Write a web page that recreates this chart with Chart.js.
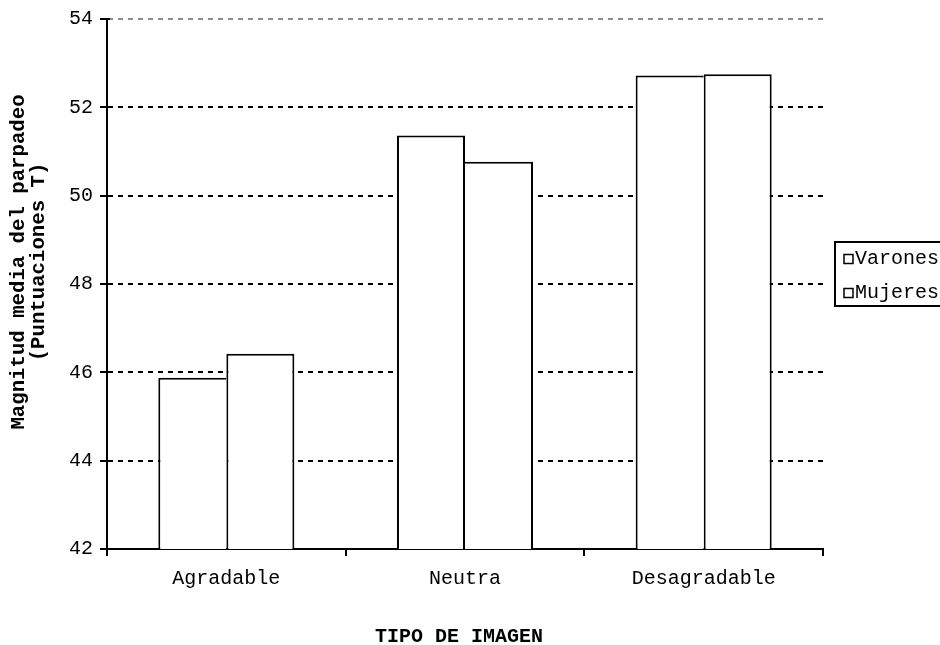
<!DOCTYPE html>
<html>
<head>
<meta charset="utf-8">
<script src="https://cdn.jsdelivr.net/npm/chart.js@4.4.1/dist/chart.umd.min.js"></script>
<style>
  html, body { margin: 0; padding: 0; background: #ffffff; }
  #wrap { width: 940px; height: 645px; }
</style>
</head>
<body>
<div id="wrap"><canvas id="c" width="940" height="645"></canvas></div>
<script>
const categories = ['Agradable', 'Neutra', 'Desagradable'];
const varones = [45.88, 51.36, 52.72];
const mujeres = [46.42, 50.77, 52.75];
const seriesNames = ['Varones', 'Mujeres'];
const yMin = 42, yMax = 54, yStep = 2;
const yTitle = ['Magnitud media del parpadeo', '(Puntuaciones T)'];
const xTitle = 'TIPO DE IMAGEN';

const MONO = "'Liberation Mono', 'Courier New', monospace";
const EDGE = 2;

// The shared edge of each bar pair is drawn once, by the taller bar
const varonesBorder = (c) => ({ top: EDGE, left: EDGE, bottom: 0,
  right: varones[c.dataIndex] >= mujeres[c.dataIndex] ? EDGE : 0 });
const mujeresBorder = (c) => ({ top: EDGE, right: EDGE, bottom: 0,
  left: mujeres[c.dataIndex] > varones[c.dataIndex] ? EDGE : 0 });

// Axis titles, boxed legend and the short inner half of the y tick marks
const decorations = {
  id: 'decorations',
  afterDraw(chart) {
    const ctx = chart.ctx;
    const area = chart.chartArea;
    const yScale = chart.scales.y;
    ctx.save();

    // tick marks crossing the value axis
    ctx.strokeStyle = '#000000';
    ctx.lineWidth = 2;
    yScale.ticks.forEach((t) => {
      const py = Math.round(yScale.getPixelForValue(t.value));
      ctx.beginPath();
      ctx.moveTo(area.left, py);
      ctx.lineTo(area.left + 3, py);
      ctx.stroke();
    });

    // value axis title, two rotated lines
    ctx.fillStyle = '#000000';
    ctx.font = 'bold 20.7px ' + MONO;
    ctx.textAlign = 'center';
    ctx.textBaseline = 'middle';
    yTitle.forEach((line, i) => {
      ctx.save();
      ctx.translate(19 + i * 20, 262);
      ctx.rotate(-Math.PI / 2);
      ctx.fillText(line, 0, 0);
      ctx.restore();
    });

    // category axis title
    ctx.font = 'bold 20px ' + MONO;
    ctx.fillText(xTitle, 459, 637);

    // legend
    const x0 = 835, y0 = 242, w = 140, h = 64;
    ctx.fillStyle = '#ffffff';
    ctx.fillRect(x0, y0, w, h);
    ctx.strokeStyle = '#000000';
    ctx.lineWidth = 2;
    ctx.strokeRect(x0, y0, w, h);
    ctx.font = '20px ' + MONO;
    ctx.textAlign = 'left';
    chart.data.datasets.forEach((ds, i) => {
      const cy = 259 + i * 34;
      ctx.lineWidth = 1.5;
      ctx.strokeStyle = '#000000';
      ctx.fillStyle = '#ffffff';
      ctx.fillRect(844, cy - 4.5, 9, 9);
      ctx.strokeRect(844, cy - 4.5, 9, 9);
      ctx.fillStyle = '#000000';
      ctx.fillText(ds.label, 855, cy);
    });
    ctx.restore();
  }
};

new Chart(document.getElementById('c'), {
  type: 'bar',
  data: {
    labels: categories,
    datasets: [
      { label: seriesNames[0], data: varones, backgroundColor: '#ffffff', borderColor: '#000000',
        borderWidth: varonesBorder, borderSkipped: false },
      { label: seriesNames[1], data: mujeres, backgroundColor: '#ffffff', borderColor: '#000000',
        borderWidth: mujeresBorder, borderSkipped: false }
    ]
  },
  options: {
    responsive: false,
    animation: false,
    devicePixelRatio: 1,
    layout: { padding: { top: 19, right: 117, left: 0, bottom: 0 } },
    datasets: { bar: { categoryPercentage: 0.57, barPercentage: 1.0 } },
    plugins: {
      legend: { display: false },
      tooltip: { enabled: false }
    },
    scales: {
      x: {
        offset: true,
        grid: {
          offset: true,
          drawOnChartArea: true,
          color: (c) => (c.index === categories.length ? '#8c8c8c' : 'rgba(0,0,0,0)'),
          lineWidth: 2,
          tickColor: '#000000',
          tickLength: 7,
          tickWidth: 2
        },
        border: { display: true, color: '#000000', width: 2 },
        ticks: { color: '#000000', font: { family: MONO, size: 20 }, padding: 11, maxRotation: 0 },
        afterFit(scale) { scale.height = 96; }
      },
      y: {
        min: yMin, max: yMax,
        ticks: { stepSize: yStep, color: '#000000', font: { family: MONO, size: 20 }, padding: 7 },
        grid: {
          color: (c) => {
            const v = c.tick ? c.tick.value : null;
            if (v === yMin) return 'rgba(0,0,0,0)';
            if (v === yMax) return '#8c8c8c';
            return '#000000';
          },
          lineWidth: 2,
          tickColor: '#000000',
          tickLength: 7,
          tickWidth: 2
        },
        border: { display: true, color: '#000000', width: 2, dash: [5, 5] },
        afterFit(scale) { scale.width = 107; }
      }
    }
  },
  plugins: [decorations]
});
</script>
</body>
</html>
